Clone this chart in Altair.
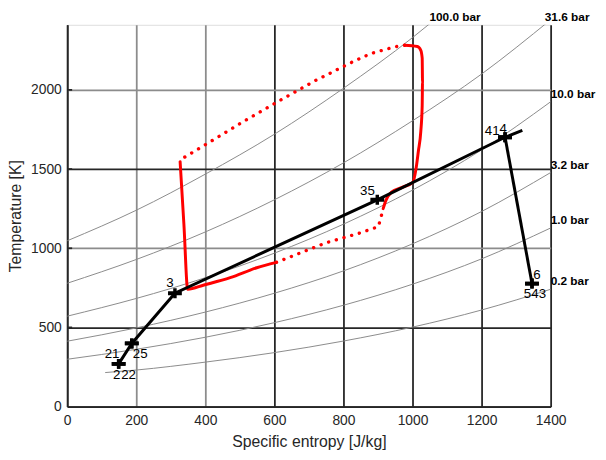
import altair as alt
import pandas as pd

# ---------------- data ----------------
# isobars: specific entropy [J/kg] vs temperature [K]
iso_s = [0, 200, 400, 600, 800, 1000, 1200, 1400]
iso_100 = [1047, 1240, 1468, 1720, 2010, 2330, 2700, 3100]
iso_316 = [779, 929, 1103, 1306, 1539, 1805, 2100, 2443]
iso_10 = [571, 683, 814, 969, 1152, 1367, 1621, 1925]
iso_32 = [413, 497, 597, 716, 857, 1028, 1232, 1478]
iso_1 = [299, 362, 438, 530, 640, 773, 933, 1128]
iso02_s = [110, 200, 400, 600, 800, 1000, 1200, 1400]
iso_02 = [215, 231, 281, 341, 414, 502, 610, 741]

iso_names = ["100.0 bar", "31.6 bar", "10.0 bar", "3.2 bar", "1.0 bar", "0.2 bar"]
iso_label_s = [1049, 1383, 1400, 1400, 1400, 1400]
iso_label_T = [2411, 2411, 1925, 1478, 1128, 741]

# axis tick values
x_ticks = [0, 200, 400, 600, 800, 1000, 1200, 1400]
y_ticks = [0, 500, 1000, 1500, 2000]

# cycle state points
pt_names = ["2", "22", "21", "25", "3", "35", "41", "4", "6", "543"]
pt_s = [149, 149, 187, 187, 312, 898, 1268, 1268, 1346, 1346]
pt_T = [270, 270, 399, 399, 716, 1306, 1701, 1701, 777, 777]

# cycle path (black)
cyc1_s = [149, 187, 312, 898, 1268, 1318]
cyc1_T = [270, 399, 716, 1306, 1701, 1745]
cyc2_s = [1268, 1346]
cyc2_T = [1701, 777]

# red process curve: solid pieces
redA_s = [327, 338, 349, 396, 472, 549, 606]
redA_T = [1547, 1150, 741, 768, 814, 877, 911]
redC_s = [915, 923, 939, 970, 1001, 1010, 1017, 1024, 1028, 1029, 1028, 1024, 1014, 977]
redC_T = [1250, 1302, 1354, 1385, 1416, 1500, 1614, 1738, 1900, 2050, 2200, 2250, 2274, 2282]
# red process curve: dotted pieces
redB_s = [606, 750, 844, 901, 908, 915]
redB_T = [911, 1035, 1094, 1136, 1190, 1250]
redD_s = [977, 949, 880, 832, 718, 614, 511, 404, 330, 327]
redD_T = [2282, 2272, 2230, 2183, 2058, 1931, 1801, 1659, 1562, 1547]

# ---------------- tables ----------------
iso_rows = []
for name, ss, tt in zip(iso_names,
                        [iso_s, iso_s, iso_s, iso_s, iso_s, iso02_s],
                        [iso_100, iso_316, iso_10, iso_32, iso_1, iso_02]):
    for i, (a, b) in enumerate(zip(ss, tt)):
        iso_rows.append({"name": name, "s": a, "T": b, "i": i})
iso_df = pd.DataFrame(iso_rows)
iso_lab_df = pd.DataFrame({"name": iso_names, "s": iso_label_s, "T": iso_label_T})


def seg_df(parts):
    rows = []
    for k, (ss, tt) in enumerate(parts):
        for i, (a, b) in enumerate(zip(ss, tt)):
            rows.append({"seg": k, "s": a, "T": b, "i": i})
    return pd.DataFrame(rows)


cyc_df = seg_df([(cyc1_s, cyc1_T), (cyc2_s, cyc2_T)])
red_solid_df = seg_df([(redA_s, redA_T), (redC_s, redC_T)])
red_dot_df = seg_df([(redB_s, redB_T), (redD_s, redD_T)])
pt_df = pd.DataFrame({"name": pt_names, "s": pt_s, "T": pt_T})
ytick_df = pd.DataFrame({"T": y_ticks[1:]})

# ---------------- styling ----------------
FONT = "Liberation Sans"
TXT = "#262626"
grid_x = {"condition": {"test": "datum.value == 200 || datum.value == 400", "value": "#8c8c8c"},
          "value": "#262626"}
grid_y = {"condition": {"test": "datum.value == 1000 || datum.value == 2000", "value": "#8c8c8c"},
          "value": "#262626"}

X = alt.X("s:Q", scale=alt.Scale(domain=[0, 1400], nice=False, zero=False),
          axis=alt.Axis(values=x_ticks, format="d",
                        title="Specific entropy [J/kg]", grid=True, gridColor=grid_x,
                        gridWidth=1.8, ticks=False, labelPadding=7, labelFontSize=14,
                        labelFont=FONT, labelColor=TXT, titleFont=FONT, titleFontSize=16,
                        titleFontWeight="normal", titleColor=TXT, titlePadding=6,
                        domainColor="#262626", domainWidth=1.6, labelFlush=False))
Y = alt.Y("T:Q", scale=alt.Scale(domain=[0, 2411], nice=False, zero=False),
          axis=alt.Axis(values=y_ticks, format="d",
                        title="Temperature [K]",
                        grid=True, gridColor=grid_y, gridWidth=1.8, ticks=False,
                        labelPadding=6, labelFontSize=14, labelFont=FONT, labelColor=TXT,
                        titleFont=FONT, titleFontSize=16, titleFontWeight="normal",
                        titleColor=TXT, titlePadding=7, domainColor="#262626",
                        domainWidth=1.6, labelFlush=False))

isobars = alt.Chart(iso_df).mark_line(color="#8a8a8a", strokeWidth=1, clip=True,
                                      interpolate="monotone").encode(
    x=X, y=Y, detail="name:N", order="i:Q")

iso_labels = alt.Chart(iso_lab_df).mark_text(
    align="left", baseline="bottom", dy=-1, font=FONT, fontWeight="bold",
    fontSize=12, color="black").encode(x=X, y=Y, text="name:N")

ystubs = alt.Chart(ytick_df).mark_rule(color="#262626", strokeWidth=1.8).encode(
    x=alt.value(0), x2=alt.value(5), y=Y)

red_solid = alt.Chart(red_solid_df).mark_line(
    color="#ff0000", strokeWidth=3, strokeJoin="round", strokeCap="round",
    interpolate="monotone").encode(x=X, y=Y, detail="seg:N", order="i:Q")

red_dot = alt.Chart(red_dot_df).mark_line(
    color="#ff0000", strokeWidth=3.4, strokeDash=[0.1, 8], strokeCap="round").encode(
    x=X, y=Y, detail="seg:N", order="i:Q")

cycle = alt.Chart(cyc_df).mark_line(color="black", strokeWidth=3).encode(
    x=X, y=Y, detail="seg:N", order="i:Q")

plus = "M-1,-0.28H1V0.28H-1Z M-0.25,-0.72H0.25V0.72H-0.25Z"
markers = alt.Chart(pt_df).mark_point(shape=plus, filled=True, size=196, color="black",
                                      opacity=1).encode(x=X, y=Y)

label_style = {"2": (-2, 11), "22": (10, 11), "21": (-20, 11), "25": (8.5, 11),
               "3": (-5, -10), "35": (-10, -9), "41": (-13, -6), "4": (-2, -8),
               "6": (5, -9), "543": (3, 11)}
text_layers = []
for nm in pt_names:
    dx, dy = label_style[nm]
    text_layers.append(
        alt.Chart(pt_df).transform_filter(alt.datum.name == nm).mark_text(
            align="center", baseline="middle", dx=dx, dy=dy, font=FONT, fontSize=13.5,
            color="black").encode(x=X, y=Y, text="name:N"))

chart = alt.layer(isobars, ystubs, iso_labels, red_dot, red_solid, cycle, markers,
                  *text_layers).properties(
    width=490, height=387,
    autosize=alt.AutoSizeParams(type="none"),
    padding={"left": 60, "top": 14, "right": 48, "bottom": 45},
).configure_view(stroke=None).configure(background="white")

chart.save("out.html", embed_options={"renderer": "svg", "actions": False})
